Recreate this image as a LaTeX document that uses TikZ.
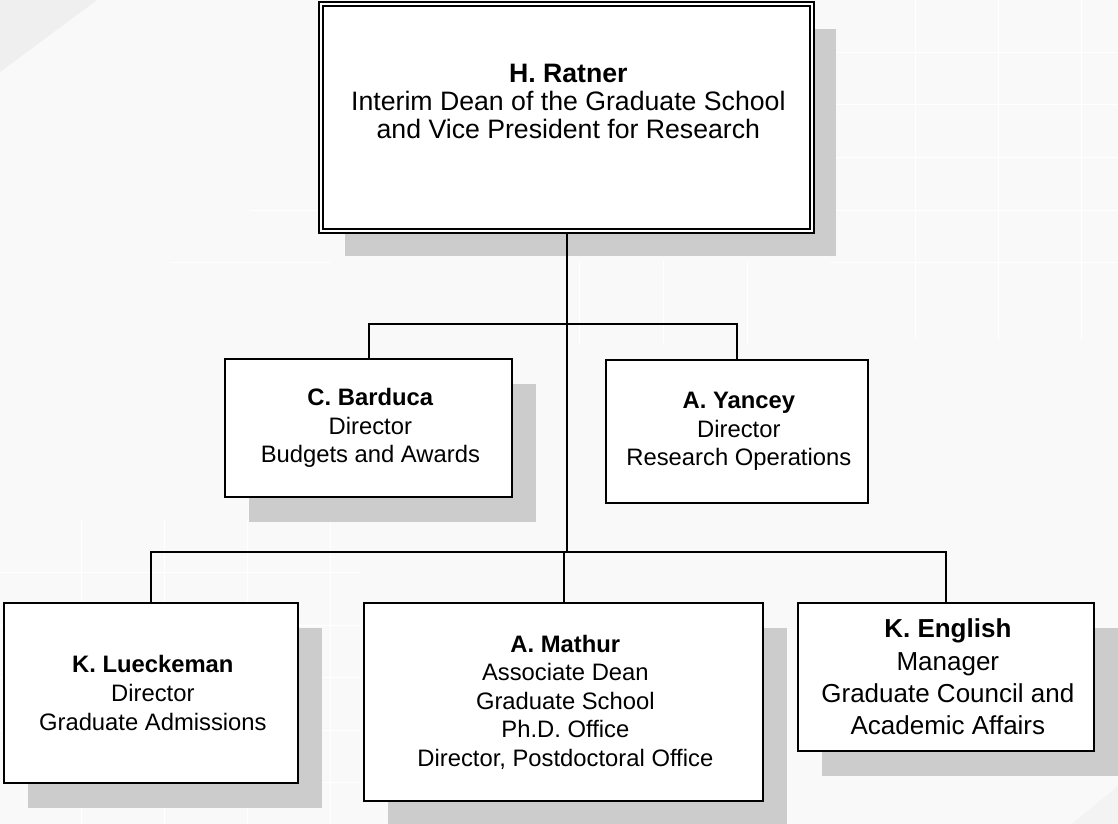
\documentclass[tikz,border=0pt]{standalone}
\usepackage{fontspec}
\setmainfont{Liberation Sans}
\usetikzlibrary{calc, shapes, shadows}
\definecolor{shadowgray}{HTML}{CCCCCC}
\definecolor{bggray}{HTML}{F9F9F9}
\definecolor{cornergray}{HTML}{EFEFEF}

\begin{document}
\begin{tikzpicture}[x=0.75pt, y=-0.75pt,
  box/.style={draw, line width=1.5pt, fill=white, align=center, inner sep=0pt},
  shadowbox/.style={box, drop shadow={shadow xshift=18pt, shadow yshift=-18.5pt, fill=shadowgray, opacity=1}},
  link/.style={line width=1.5pt}]
\newcommand{\mytopfont}{
\fontsize{20}{21}\selectfont
}\newcommand{\mysubfont}{
\fontsize{17.85}{21.4}\selectfont
}\newcommand{\mybigfont}{
\fontsize{19.5}{24.2}\selectfont
}%Page and background
\useasboundingbox (0,0) rectangle (1118,824);
\fill[bggray] (0,0) rectangle (1118,824);
\fill[cornergray] (0,0) -- (97,0) -- (0,72) -- cycle;
\fill[cornergray!60!bggray] (1118,786) -- (1118,824) -- (1072,824) -- cycle;
%Faint grid lines, top right
\foreach \gx in {915,998,1081} {
  \draw[white, line width=0.75pt] (\gx,0) -- (\gx,340);
}
\foreach \gy in {52.5,105,157.5,210,262.5} {
  \draw[white, line width=0.75pt] (830,\gy) -- (1118,\gy);
}
%Faint grid lines, middle and left
\foreach \gx in {579,663,747} {
  \draw[white, line width=0.75pt] (\gx,260) -- (\gx,345);
}
\foreach \gx in {81,164,247,330} {
  \draw[white, line width=0.75pt] (\gx,520) -- (\gx,824);
}
\foreach \gy in {157.5,210,262.5} {
  \draw[white, line width=0.75pt] ({330-80*(\gy-157.5)/52.5},\gy) -- (330,\gy);
}
\foreach \gy in {572,625,677,730,782} {
  \draw[white, line width=0.75pt] (0,\gy) -- (360,\gy);
}
%Top box
\node[shadowbox, double, double distance=1.5pt, minimum width=368.25pt, minimum height=170.25pt] (ratner) at (566.5,117.5) {};
\node[font=\mytopfont, align=center] (ratnertext) at (566.5,101) {\textbf{H. Ratner}\\Interim Dean of the Graduate School\\and Vice President for Research};
%Second row
\node[shadowbox, font=\mysubfont, minimum width=215.25pt, minimum height=103.5pt] (barduca) at (368.5,428) {\textbf{C. Barduca}\\Director\\Budgets and Awards};
\node[box, font=\mysubfont, minimum width=196.5pt, minimum height=107.25pt] (yancey) at (737,431.5) {\textbf{A. Yancey}\\Director\\Research Operations};
%Third row
\node[shadowbox, font=\mysubfont, minimum width=220.5pt, minimum height=135pt] (lueckeman) at (151,693) {\textbf{K. Lueckeman}\\Director\\Graduate Admissions};
\node[shadowbox, font=\mysubfont, minimum width=299.25pt, minimum height=148.5pt] (mathur) at (563.5,702) {\textbf{A. Mathur}\\Associate Dean\\Graduate School\\Ph.D. Office\\Director, Postdoctoral Office};
\node[shadowbox, font=\mybigfont, minimum width=222pt, minimum height=111pt] (english) at (946,677) {\textbf{K. English}\\Manager\\Graduate Council and\\Academic Affairs};
%Joints on the trunk
\coordinate (jointop) at (566.5,324);
\coordinate (joinlow) at (566.5,552);
%Connectors
\draw[link] (ratner.south) -- (joinlow);
\draw[link] (barduca.north) |- (jointop) -| (yancey.north);
\draw[link] (lueckeman.north) |- (joinlow) -| (english.north);
\draw[link] (joinlow -| mathur.north) -- (mathur.north);
\end{tikzpicture}
\end{document}
